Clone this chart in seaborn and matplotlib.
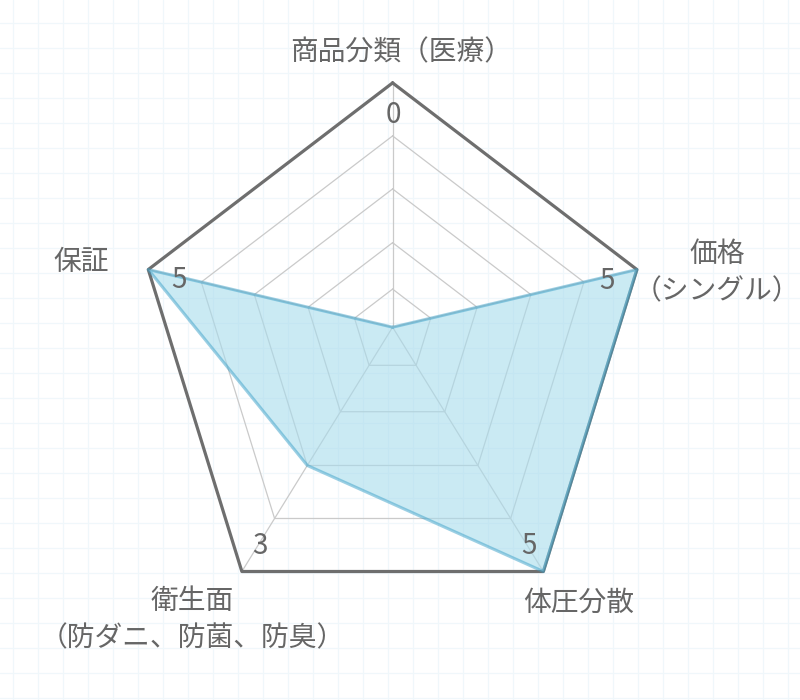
import numpy as np
import matplotlib
matplotlib.use("Agg")
import matplotlib.pyplot as plt
import seaborn as sns
import pandas as pd

# ---- data ----
categories = ["商品分類（医療）", "価格\n（シングル）", "体圧分散", "衛生面\n（防ダニ、防菌、防臭）", "保証"]
values = [0, 5, 5, 3, 5]
value_labels = ["0", "5", "5", "3", "5"]
scale_max = 5
ring_values = [1, 2, 3, 4, 5]

# ---- layout / style (pixel space of an 800x700 canvas, y down) ----
CX, CY, R = 392.6, 327.2, 244.3
DIR_X = [0.0, 1.0, 0.617, -0.617, -1.0]
DIR_Y = [-1.0, -0.236, 1.0, 1.0, -0.236]
RING_FRAC = [0.0, 0.156, 0.346, 0.566, 0.783, 1.0]   # radial scale (value 0..5)
LABEL_OFF = [(9, -31), (80, 3), (35, 31), (-50, 48), (-67, -8)]   # (dx, dy) pixels, y down
VALUE_OFF = [(1, 32), (-30, 11), (-14, -25), (18, -25), (31, 10)]
TEXT_COLOR = "#666666"
FS = 20

sns.set_theme(style="white")
plt.rcParams["font.family"] = ["Noto Sans CJK JP", "DejaVu Sans"]

fig = plt.figure(figsize=(8, 7), dpi=100)
ax = fig.add_axes([0, 0, 1, 1])
ax.set_xlim(0, 800)
ax.set_ylim(700, 0)
ax.axis("off")

# background graph-paper grid
for gx in np.arange(12.5, 800, 25):
    ax.axvline(gx, color="#f0f7fb", lw=0.9, zorder=0)
for gy in np.arange(22.5, 700, 25):
    ax.axhline(gy, color="#f0f7fb", lw=0.9, zorder=0)


def radius(v):
    return np.interp(v, np.arange(scale_max + 1), RING_FRAC) * R


def point(i, v):
    r = radius(v)
    return CX + r * DIR_X[i], CY + r * DIR_Y[i]


n = len(categories)

# rings
for rv in ring_values:
    pts = [point(i, rv) for i in range(n)] + [point(0, rv)]
    df = pd.DataFrame(pts, columns=["x", "y"])
    if rv == scale_max:
        sns.lineplot(data=df, x="x", y="y", sort=False, estimator=None, ax=ax,
                     color="#6e6e6e", lw=2.3, zorder=3)
    else:
        sns.lineplot(data=df, x="x", y="y", sort=False, estimator=None, ax=ax,
                     color="#cacaca", lw=0.9, zorder=2)

# spokes
for i in range(n):
    x0, y0 = point(i, 0)
    x1, y1 = point(i, scale_max)
    ax.plot([x0, x1], [y0, y1], color="#cacaca", lw=0.9, zorder=2)

# data polygon
dpts = [point(i, v) for i, v in enumerate(values)]
dx = [p[0] for p in dpts] + [dpts[0][0]]
dy = [p[1] for p in dpts] + [dpts[0][1]]
ax.fill(dx, dy, color="#a8dcec", alpha=0.6, lw=0, zorder=4)
sns.lineplot(x=dx, y=dy, sort=False, estimator=None, ax=ax,
             color="#3aa0c8", alpha=0.5, lw=2.2, zorder=5)

# category labels
for i, lab in enumerate(categories):
    vx, vy = point(i, scale_max)
    ox, oy = LABEL_OFF[i]
    ax.annotate(lab, xy=(vx, vy), xytext=(ox, -oy), textcoords="offset pixels",
                ha="center", va="center", fontsize=FS, color=TEXT_COLOR,
                linespacing=1.3, zorder=6)

# value labels
for i, lab in enumerate(value_labels):
    vx, vy = point(i, scale_max)
    ox, oy = VALUE_OFF[i]
    ax.annotate(lab, xy=(vx, vy), xytext=(ox, -oy), textcoords="offset pixels",
                ha="center", va="center", fontsize=FS, color=TEXT_COLOR, zorder=6)

fig.savefig("out.png", dpi=100, facecolor="white")
